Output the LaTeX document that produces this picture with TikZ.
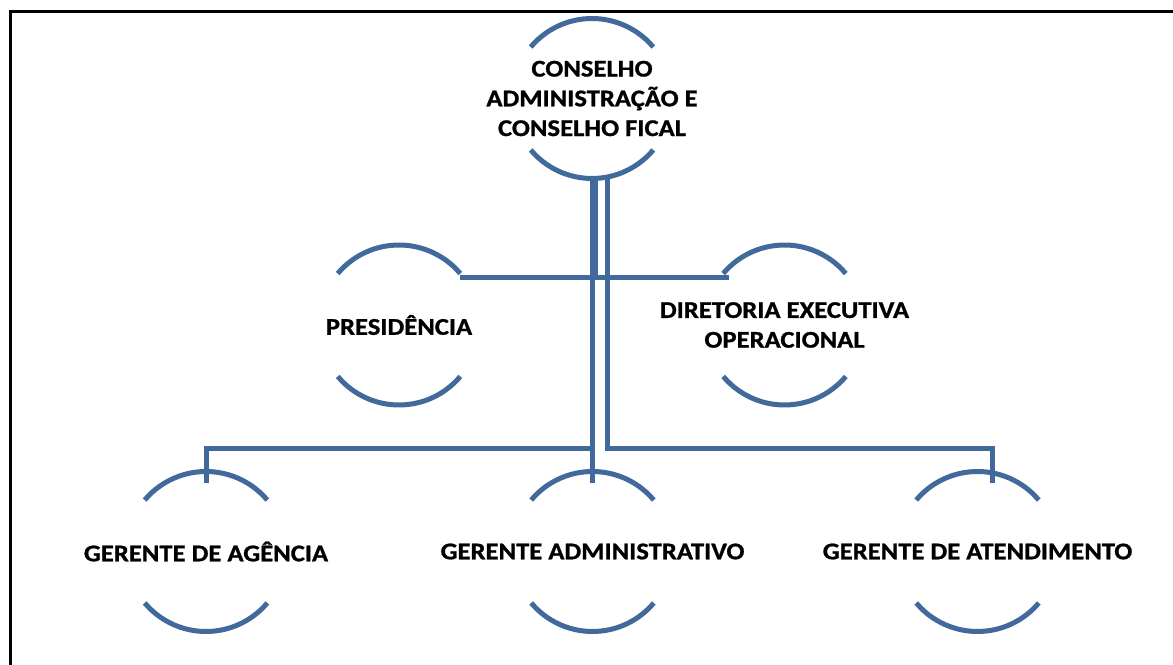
\documentclass[tikz,border=0pt]{standalone}
\usepackage{fontspec}
\setmainfont{Carlito}[FakeStretch=1.11,BoldFeatures={FakeBold=1}]
\definecolor{orgblue}{RGB}{65,105,155}
\begin{document}
\begin{tikzpicture}[x=0.75pt,y=0.75pt,
  ring/.style={circle,minimum size=120pt,inner sep=0pt,outer sep=0pt},
  arcline/.style={draw=orgblue,line width=3.75pt},
  conn/.style={draw=orgblue,line width=3.75pt},
  lbl/.style={font=\bfseries\fontsize{18}{22.3}\selectfont,align=center,inner sep=0pt},
  frame/.style={draw=black,line width=1.9pt}]
\useasboundingbox (0,0) rectangle (1173,664);
% frame (top and left edges)
\coordinate (bl) at (10.7,-2);
\coordinate (tl) at (10.7,652.7);
\coordinate (tr) at (1175,652.7);
\draw[frame] (bl) -- (tl) -- (tr);
% circles
\node[ring] (top)  at (592,565.5) {};
\node[ring] (pres) at (399,339) {};
\node[ring] (dir)  at (784.5,339) {};
\node[ring] (ag)   at (206,112.5) {};
\node[ring] (adm)  at (592.5,112.5) {};
\node[ring] (ate)  at (977.5,112.5) {};
\foreach \n in {top,pres,dir,ag,adm,ate}{
  \draw[arcline] (\n.40) arc[start angle=40,end angle=140,radius=60pt];
  \draw[arcline] (\n.220) arc[start angle=220,end angle=320,radius=60pt];
}
% labels
\node[lbl] (topt)  at (top)  {CONSELHO\\ADMINISTRAÇÃO E\\CONSELHO FICAL};
\node[lbl] (prest) at (pres) {PRESIDÊNCIA};
\node[lbl] (dirt)  at (dir)  {DIRETORIA EXECUTIVA\\OPERACIONAL};
\node[lbl] (agt)   at (ag)   {GERENTE DE AGÊNCIA};
\node[lbl] (admt)  at (adm)  {GERENTE ADMINISTRATIVO};
\node[lbl] (atet)  at (ate)  {GERENTE DE ATENDIMENTO};
% connectors
\coordinate (bus) at (0,215);
\coordinate (presEnd) at ([yshift=-3.3pt]pres.40);
\coordinate (dirEnd) at ([xshift=4.35pt,yshift=-3.3pt]dir.140);
\coordinate (ateStub) at ([xshift=11.6pt]ate.north);
\draw[conn] ([xshift=2.85pt]top.south) |- (presEnd);
\draw[conn] ([xshift=2.85pt]top.south) |- (dirEnd);
\draw[conn] ([xshift=0.375pt]top.south) |- (bus -| ag) -- ([yshift=-8.6pt]ag.north);
\draw[conn] ([xshift=0.375pt]top.south) -- ([yshift=-8.6pt]adm.north);
\draw[conn] ([xshift=11.25pt]top.south) |- (bus -| ateStub) -- ([yshift=-8.6pt]ateStub);
\end{tikzpicture}
\end{document}
